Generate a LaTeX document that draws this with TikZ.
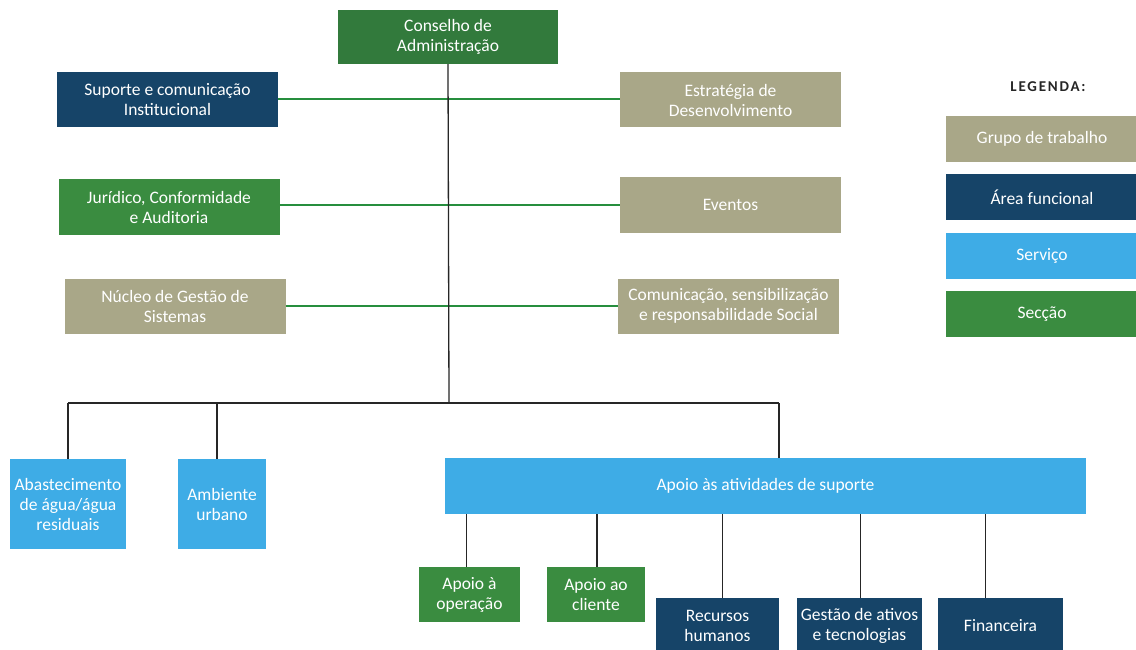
\documentclass[tikz,border=0pt]{standalone}
\usepackage{fontspec}
\setmainfont{Carlito}
\usetikzlibrary{positioning}
\definecolor{grupoc}{RGB}{169,167,136}
\definecolor{areac}{RGB}{22,68,104}
\definecolor{servicoc}{RGB}{62,172,230}
\definecolor{seccaoc}{RGB}{58,140,64}
\definecolor{conselhoc}{RGB}{50,122,60}
\definecolor{linegreen}{RGB}{38,142,62}

\begin{document}
\begin{tikzpicture}[
    x=1pt, y=-1pt,
    node distance=12pt,
    box/.style={rectangle, text=white, inner sep=2pt, align=center, minimum width=221pt, minimum height=55pt, font=\fontsize{17.5}{20}\selectfont},
    grupo/.style={box, fill=grupoc},
    area/.style={box, fill=areac},
    servico/.style={box, fill=servicoc},
    seccao/.style={box, fill=seccaoc},
    legendbox/.style={minimum width=192pt, minimum height=46pt},
    sideline/.style={draw=linegreen, line width=2pt},
    treeline/.style={draw=black!85, line width=1.3pt}
]
\useasboundingbox[fill=white] (0,0) rectangle (1136,650);

% Topo
\node[seccao, fill=conselhoc, minimum width=220pt, minimum height=54pt] (conselho) at (448,37) {Conselho de\\Administração};

% Coluna esquerda
\node[area] (suporte) at (167.5,99.5) {Suporte e comunicação\\Institucional};
\node[seccao] (juridico) at (169,207) {Jurídico, Conformidade\\e Auditoria};
\node[grupo] (nucleo) at (175,306) {Núcleo de Gestão de\\Sistemas};

% Coluna direita
\node[grupo] (estrategia) at (730.5,100) {Estratégia de\\Desenvolvimento};
\node[grupo] (eventos) at (730.5,205) {Eventos};
\node[grupo] (comunicacao) at (728.5,306) {Comunicação, sensibilização\\e responsabilidade Social};

% Servicos
\coordinate (busL) at (68,403);
\coordinate (busM) at (449,403);
\coordinate (busR) at (779,403);
\node[servico, minimum width=116pt, minimum height=90pt] (abastecimento) at (68,504) {Abastecimento\\de água/água\\residuais};
\node[servico, minimum width=88pt, minimum height=90pt] (ambiente) at (222,504) {Ambiente\\urbano};
\node[servico, minimum width=641pt, minimum height=56pt] (apoio) at (765.5,486) {Apoio às atividades de suporte};

% Seccoes e areas de suporte
\node[seccao, minimum width=101pt] (operacao) at (469.5,594.5) {Apoio à\\operação};
\node[seccao, minimum width=98pt] (cliente) at (596,594.5) {Apoio ao\\cliente};
\node[area, minimum width=123pt] (rh) at (717.5,625.5) {Recursos\\humanos};
\node[area, minimum width=125pt] (gestao) at (859.5,625.5) {Gestão de ativos\\e tecnologias};
\node[area, minimum width=125pt] (financeira) at (1000.5,625.5) {Financeira};

% Legenda
\node[font=\fontsize{15}{17}\bfseries\addfontfeature{LetterSpace=12}, text=black!85] (legenda) at (1048,87) {LEGENDA:};
\node[grupo, legendbox] (lgrupo) at (1042,139) {Grupo de trabalho};
\node[area, legendbox, below=of lgrupo] (larea) {Área funcional};
\node[servico, legendbox, below=of larea] (lservico) {Serviço};
\node[seccao, legendbox, below=of lservico] (lseccao) {Secção};

% Ligacoes laterais
\draw[sideline] (suporte.east) -- (suporte.east -| estrategia.west);
\draw[sideline] (juridico.east |- eventos.west) -- (eventos.west);
\draw[sideline] (nucleo.east) -- (comunicacao.west);

% Arvore
\draw[treeline] (conselho.south) -- (busM);
\draw[treeline] (busL) -- (busR);
\draw[treeline] (busL) -- (abastecimento.north);
\draw[treeline] ([xshift=-5pt]ambiente.north) -- ([xshift=-5pt]ambiente.north |- busL);
\draw[treeline] (busR) -- (busR |- apoio.north);
\draw[treeline] ([xshift=-3pt]operacao.north) -- ([xshift=-3pt]operacao.north |- apoio.south);
\draw[treeline] ([xshift=1pt]cliente.north) -- ([xshift=1pt]cliente.north |- apoio.south);
\draw[treeline] ([xshift=5pt]rh.north) -- ([xshift=5pt]rh.north |- apoio.south);
\draw[treeline] ([xshift=1pt]gestao.north) -- ([xshift=1pt]gestao.north |- apoio.south);
\draw[treeline] ([xshift=-15pt]financeira.north) -- ([xshift=-15pt]financeira.north |- apoio.south);

\end{tikzpicture}
\end{document}
